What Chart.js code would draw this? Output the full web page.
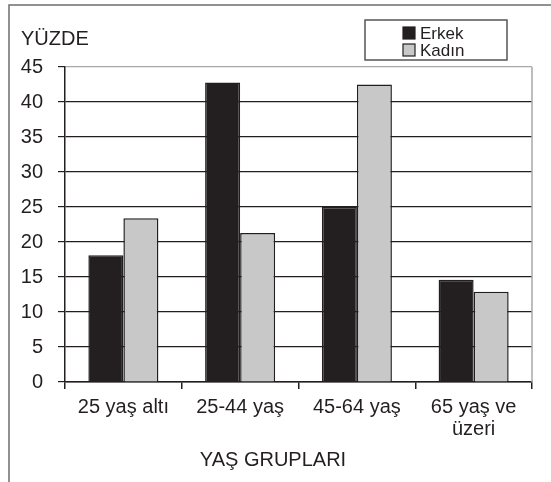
<!DOCTYPE html>
<html lang="tr">
<head>
<meta charset="utf-8">
<title>Yaş grupları</title>
<script src="https://cdn.jsdelivr.net/npm/chart.js@4"></script>
<style>
    html, body { margin: 0; padding: 0; background: #fff; }
    #wrap { width: 551px; height: 482px; position: relative; }
</style>
</head>
<body>
<div id="wrap"><canvas id="grafik"></canvas></div>
<script>
// --- DONNÉES ---
const kategoriler = ['25 yaş altı', '25-44 yaş', '45-64 yaş', ['65 yaş ve', 'üzeri']];
const erkek = [18.1, 42.8, 25.0, 14.6];
const kadin = [23.4, 21.3, 42.5, 12.9];
const yTicks = [0, 5, 10, 15, 20, 25, 30, 35, 40, 45];

const KOYU = '#231f20';
const GRI = '#c8c8c8';
const FONT = '"Liberation Sans", Arial, Helvetica, sans-serif';

// cadre, titres et légende dessinés à la main
const decorPlugin = {
    id: 'decor',
    afterDraw(chart) {
        const ctx = chart.ctx;
        const a = chart.chartArea;
        ctx.save();

        // cadre extérieur (haut + gauche seulement)
        ctx.strokeStyle = '#6d6d6d';
        ctx.lineWidth = 1.5;
        ctx.beginPath();
        ctx.moveTo(9, 482);
        ctx.lineTo(9, 5);
        ctx.lineTo(551, 5);
        ctx.stroke();

        // bord droit de la zone de tracé
        ctx.strokeStyle = '#a8a8a8';
        ctx.lineWidth = 1.5;
        ctx.beginPath();
        ctx.moveTo(a.right, a.top);
        ctx.lineTo(a.right, a.bottom);
        ctx.stroke();

        // titres
        ctx.fillStyle = KOYU;
        ctx.font = '20px ' + FONT;
        ctx.textBaseline = 'alphabetic';
        ctx.textAlign = 'left';
        ctx.fillText('YÜZDE', 21, 45);
        ctx.textAlign = 'center';
        ctx.fillText('YAŞ GRUPLARI', 273, 466);

        // légende
        ctx.strokeStyle = '#555';
        ctx.lineWidth = 1.5;
        ctx.fillStyle = '#fff';
        ctx.fillRect(365, 20, 142, 40);
        ctx.strokeRect(365, 20, 142, 40);
        ctx.font = '17px ' + FONT;
        ctx.textAlign = 'left';
        chart.data.datasets.forEach((ds, i) => {
            const y = 27 + i * 17;
            ctx.fillStyle = ds.backgroundColor;
            ctx.fillRect(403, y, 12, 12);
            ctx.strokeStyle = KOYU;
            ctx.lineWidth = 1.2;
            ctx.strokeRect(403, y, 12, 12);
            ctx.fillStyle = KOYU;
            ctx.fillText(ds.label, 420, y + 12);
        });

        ctx.restore();
    }
};

document.addEventListener('DOMContentLoaded', () => {
    new Chart(document.getElementById('grafik').getContext('2d'), {
        type: 'bar',
        data: {
            labels: kategoriler,
            datasets: [
                { label: 'Erkek', data: erkek, backgroundColor: KOYU, borderColor: KOYU, borderWidth: 1.5 },
                { label: 'Kadın', data: kadin, backgroundColor: GRI, borderColor: KOYU, borderWidth: 1.5 }
            ]
        },
        options: {
            responsive: true,
            maintainAspectRatio: false,
            animation: false,
            layout: { padding: { top: 67, right: 19, left: 0, bottom: 0 } },
            datasets: { bar: { categoryPercentage: 0.6, barPercentage: 1.0 } },
            plugins: {
                legend: { display: false },
                tooltip: { enabled: false }
            },
            scales: {
                x: {
                    grid: {
                        offset: true,
                        drawOnChartArea: false,
                        drawTicks: true,
                        tickLength: 7,
                        tickColor: KOYU,
                        lineWidth: 1.5
                    },
                    border: { display: true, color: KOYU, width: 1.5 },
                    ticks: {
                        color: KOYU,
                        padding: 7,
                        maxRotation: 0,
                        autoSkip: false,
                        font: { family: FONT, size: 20, lineHeight: 1.1 }
                    },
                    afterFit: (scale) => { scale.height = 100; }
                },
                y: {
                    min: 0,
                    max: 45,
                    afterBuildTicks: (scale) => { scale.ticks = yTicks.map(v => ({ value: v })); },
                    grid: {
                        color: (c) => (c.tick && c.tick.value === 45 ? '#a8a8a8' : KOYU),
                        lineWidth: 1.2,
                        tickLength: 7,
                        tickColor: KOYU
                    },
                    border: { display: true, color: KOYU, width: 1.5 },
                    ticks: {
                        color: KOYU,
                        padding: 15,
                        font: { family: FONT, size: 20 }
                    },
                    afterFit: (scale) => { scale.width = 65; }
                }
            }
        },
        plugins: [decorPlugin]
    });
});
</script>
</body>
</html>
